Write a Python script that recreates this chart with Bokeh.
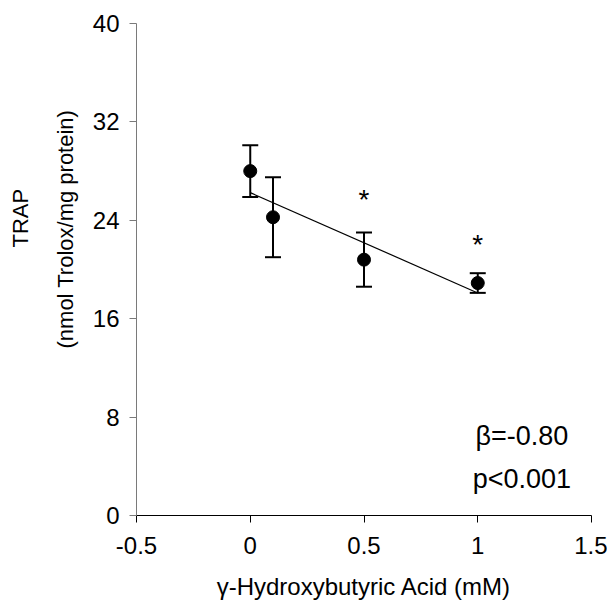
import numpy as np
from bokeh.plotting import figure
from bokeh.models import Range1d, FixedTicker, Whisker, TeeHead, ColumnDataSource, Label, Title
from bokeh.core.properties import value
from bokeh.embed import file_html
from bokeh.resources import INLINE

# data
conc = [0.0, 0.1, 0.5, 1.0]
trap = [28.0, 24.25, 20.8, 18.9]
sem = [2.1, 3.25, 2.2, 0.8]
star_x = [0.5, 1.0]
star_y = [25.7, 22.0]
x_ticks = [-0.5, 0, 0.5, 1, 1.5]
x_tick_labels = ["-0.5", "0", "0.5", "1", "1.5"]
y_ticks = [0, 8, 16, 24, 32, 40]
y_title_lines = ["(nmol Trolox/mg protein)", "TRAP"]
x_title = "γ-Hydroxybutyric Acid (mM)"
beta_text = "β=-0.80"
p_text = "p<0.001"

FONT = "Liberation Sans"

p = figure(width=607, height=606, output_backend="svg", toolbar_location=None,
           x_range=Range1d(-0.5, 1.5), y_range=Range1d(0, 40),
           min_border_left=135, min_border_right=16, min_border_top=23, min_border_bottom=91)
p.outline_line_color = None
p.xgrid.visible = False
p.ygrid.visible = False
p.background_fill_color = "white"
p.border_fill_color = "white"

# axes
p.xaxis.ticker = FixedTicker(ticks=x_ticks)
p.xaxis.major_label_overrides = {t: l for t, l in zip(x_ticks, x_tick_labels)}
p.yaxis.ticker = FixedTicker(ticks=y_ticks)
p.yaxis.major_label_overrides = {t: str(t) for t in y_ticks}
for ax in (p.xaxis, p.yaxis):
    ax.minor_tick_line_color = None
    ax.major_tick_out = 7
    ax.major_tick_in = 0
    ax.major_label_text_font = FONT
    ax.major_label_text_font_size = "24px"
    ax.major_label_text_color = "black"
    ax.axis_label_text_font = FONT
    ax.axis_label_text_font_style = "normal"
    ax.axis_label_text_color = "black"
p.xaxis.axis_line_color = "black"
p.xaxis.major_tick_line_color = "black"
p.yaxis.axis_line_color = "#7a7a7a"
p.yaxis.major_tick_line_color = "#7a7a7a"
p.xaxis.major_label_standoff = 14
p.yaxis.major_label_standoff = 10
p.xaxis.axis_label = x_title
p.xaxis.axis_label_text_font_size = "24px"
p.xaxis.axis_label_standoff = 16

# y-axis title: two lines, a little above the frame centre as in the original
for txt, so, off in zip(y_title_lines, [24, 11], [167, 268]):
    p.add_layout(Title(text=txt, align="left", offset=off, standoff=so,
                       text_font=FONT, text_font_size="22px", text_font_style="normal",
                       text_color="black"), "left")

src = ColumnDataSource(dict(x=conc, y=trap,
                            upper=[a + b for a, b in zip(trap, sem)],
                            lower=[a - b for a, b in zip(trap, sem)]))

# regression line
slope, intercept = np.polyfit(conc, trap, 1)
fx = [min(conc), max(conc)]
p.line(fx, [intercept + slope * v for v in fx], line_color="black", line_width=1.2)

# error bars
w = Whisker(source=src, base="x", upper="upper", lower="lower",
            line_color="black", line_width=2,
            upper_head=TeeHead(size=16, line_width=2, line_color="black"),
            lower_head=TeeHead(size=16, line_width=2, line_color="black"))
p.add_layout(w)

p.scatter("x", "y", source=src, size=13, fill_color="black", line_color="black")

# significance stars
p.text(star_x, star_y, text=["*"] * len(star_x), text_font=value(FONT),
       text_font_size="28px", text_align="center", text_baseline="middle", text_color="black")

p.add_layout(Label(x=0.99, y=6.5, text=beta_text, text_font=FONT, text_font_size="27px",
                   text_baseline="middle", text_color="black"))
p.add_layout(Label(x=0.978, y=3.0, text=p_text, text_font=FONT, text_font_size="27px",
                   text_baseline="middle", text_color="black"))

open("out.html", "w").write(file_html(p, INLINE))
